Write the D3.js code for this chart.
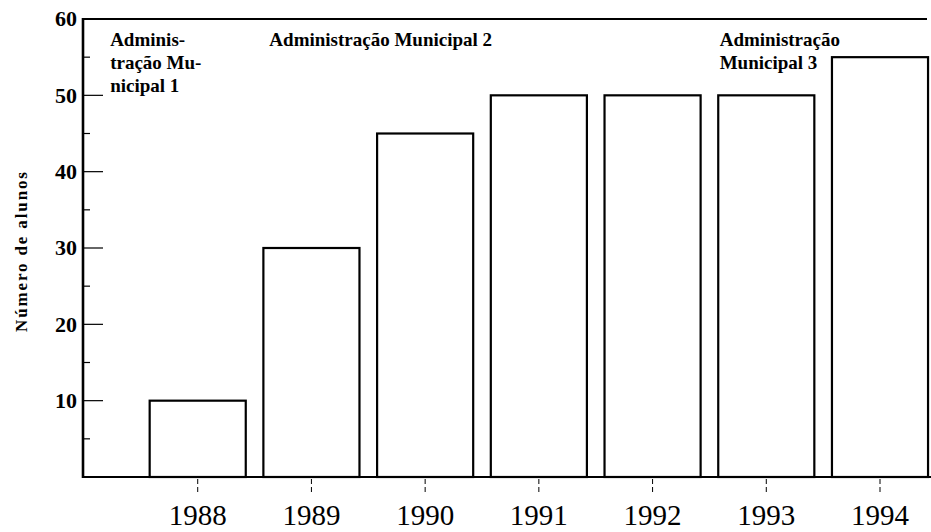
<!DOCTYPE html>
<html>
<head>
<meta charset="utf-8">
<script src="https://cdn.jsdelivr.net/npm/d3@7"></script>
<style>
  body { margin: 0; background: #fff; }
  svg { display: block; font-family: "Liberation Serif", "Times New Roman", serif; }
</style>
</head>
<body>
<div id="chart"></div>
<script>
// data
const years = [1988, 1989, 1990, 1991, 1992, 1993, 1994];
const alunos = [10, 30, 45, 50, 50, 50, 55];
const yTicks = [10, 20, 30, 40, 50, 60];
const yMinor = [5, 15, 25, 35, 45, 55];
const yTitle = "Número de alunos";
// administration notes: lines and anchor year (x)
const notes = [
  { lines: ["Adminis-", "tração Mu-", "nicipal 1"], at: 1987.23 },
  { lines: ["Administração Municipal 2"], at: 1988.63 },
  { lines: ["Administração", "Municipal 3"], at: 1992.59 }
];

const width = 931, height = 532;
const mLeft = 83, mBottom = 477, mTop = 19;

const svg = d3.select("#chart").append("svg")
    .attr("width", width)
    .attr("height", height);

const x = d3.scaleLinear()
    .domain([1987, 1994])
    .range([84, 880]);

const y = d3.scaleLinear()
    .domain([0, 60])
    .range([mBottom, mTop]);

const step = x(1) - x(0);
const barW = step * 0.845;

// bars
svg.append("g").selectAll("rect")
    .data(years)
    .join("rect")
    .attr("x", (d) => x(d) - barW / 2)
    .attr("y", (d, i) => y(alunos[i]))
    .attr("width", barW)
    .attr("height", (d, i) => y(0) - y(alunos[i]))
    .attr("fill", "#fff")
    .attr("stroke", "#000")
    .attr("stroke-width", 2.2);

// frame: top line, left axis, bottom axis
svg.append("line")
    .attr("x1", mLeft).attr("x2", 927)
    .attr("y1", y(60)).attr("y2", y(60))
    .attr("stroke", "#000").attr("stroke-width", 2);

svg.append("line")
    .attr("x1", mLeft).attr("x2", width)
    .attr("y1", y(0)).attr("y2", y(0))
    .attr("stroke", "#000").attr("stroke-width", 2);

svg.append("line")
    .attr("x1", mLeft).attr("x2", mLeft)
    .attr("y1", y(60) - 1).attr("y2", y(0) + 1)
    .attr("stroke", "#000").attr("stroke-width", 2.6);

// y ticks (inside) and labels
svg.append("g").selectAll("line")
    .data(yTicks.filter((d) => d < 60))
    .join("line")
    .attr("x1", mLeft).attr("x2", mLeft + 20)
    .attr("y1", (d) => y(d)).attr("y2", (d) => y(d))
    .attr("stroke", "#000").attr("stroke-width", 1.2);

svg.append("g").selectAll("line")
    .data(yMinor)
    .join("line")
    .attr("x1", mLeft).attr("x2", mLeft + 7)
    .attr("y1", (d) => y(d)).attr("y2", (d) => y(d))
    .attr("stroke", "#000").attr("stroke-width", 1.2);

svg.append("g").selectAll("text")
    .data(yTicks)
    .join("text")
    .attr("x", mLeft - 6)
    .attr("y", (d) => y(d))
    .attr("dy", "0.34em")
    .attr("text-anchor", "end")
    .attr("font-size", 22)
    .attr("font-weight", "bold")
    .text((d) => d);

// x ticks (below) and year labels
svg.append("g").selectAll("line")
    .data(years)
    .join("line")
    .attr("x1", (d) => x(d)).attr("x2", (d) => x(d))
    .attr("y1", y(0) + 2).attr("y2", y(0) + 17)
    .attr("stroke", "#000").attr("stroke-width", 1)
    .attr("stroke-dasharray", "5,3");

svg.append("g").selectAll("text")
    .data(years)
    .join("text")
    .attr("x", (d) => x(d))
    .attr("y", 525)
    .attr("text-anchor", "middle")
    .attr("font-size", 29)
    .text((d) => d);

// y axis title
svg.append("text")
    .attr("transform", "translate(27," + ((y(0) + y(60)) / 2 + 4) + ") rotate(-90)")
    .attr("text-anchor", "middle")
    .attr("font-size", 17)
    .attr("font-weight", "bold")
    .attr("textLength", 160)
    .attr("lengthAdjust", "spacing")
    .text(yTitle);

// administration notes
notes.forEach((n) => {
  svg.append("text")
      .attr("x", x(n.at))
      .attr("y", 46)
      .attr("font-size", 19)
      .attr("font-weight", "bold")
      .selectAll("tspan")
      .data(n.lines)
      .join("tspan")
      .attr("x", x(n.at))
      .attr("dy", (d, i) => i === 0 ? 0 : 23)
      .text((d) => d);
});
</script>
</body>
</html>
